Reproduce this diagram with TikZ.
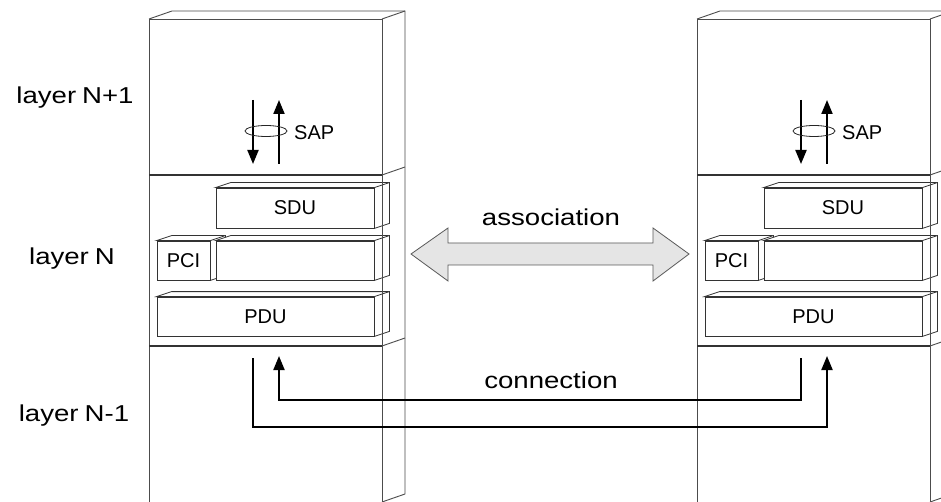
\documentclass[tikz,border=0pt]{standalone}
\usepackage{fontspec}
\setmainfont{Liberation Sans}
\newfontfamily\lblfont[FakeStretch=1.2]{Liberation Sans}
\usetikzlibrary{arrows.meta}
\begin{document}
\begin{tikzpicture}[x=1pt,y=-1pt,
  colline/.style={line width=0.9pt, draw=black!70},
  layerline/.style={line width=1.6pt, draw=black!80},
  slab/.style={draw=black!80, line width=0.8pt, fill=white, inner sep=0pt,
    font=\fontsize{20}{24}\selectfont},
  slabface/.style={draw=black!80, line width=0.8pt, fill=white},
  flow/.style={line width=2pt, draw=black, -{Triangle[length=14pt,width=11pt]}},
  bigtext/.style={font=\lblfont\fontsize{23}{26}\selectfont, inner sep=0pt, anchor=base},
  captext/.style={font=\fontsize{20}{24}\selectfont, inner sep=0pt},
  assoc/.style={draw=black!65, line width=0.8pt, fill=black!10, line join=miter},
]
\clip (0,0) rectangle (941,502);
\fill[white] (0,0) rectangle (941,502);

% two identical protocol stacks, the right one shifted by 548
\foreach \s/\dx in {L/0,R/548}{
\begin{scope}[xshift=\dx pt]
  % column block: top and side faces
  \draw[colline] (149,19) -- (172,11) -- (405,11) -- (405,494) -- (382,502);
  \draw[colline] (382,19) -- (405,11);
  \draw[colline] (382,175) -- (405,167);
  \draw[colline] (382,346) -- (405,338);
  \draw[colline] (149,502) -- (149,19) -- (382,19);
  % layer boundaries
  \draw[layerline] (149,175) -- (382,175);
  \draw[layerline] (149,346) -- (382,346);

  % data units
  \node[slab, minimum width=158pt, minimum height=40pt] (sdu\s) at (295,208) {SDU};
  \filldraw[slabface] (sdu\s.north west) -- ++(15,-5) -- ([shift={(15,-5)}]sdu\s.north east)
     -- ([shift={(15,-5)}]sdu\s.south east) -- (sdu\s.south east) -- (sdu\s.north east) -- cycle;
  \draw[slabface] (sdu\s.north east) -- ++(15,-5);

  \node[slab, minimum width=53pt, minimum height=39pt] (pci\s) at (183.5,260.5) {PCI};
  \filldraw[slabface] (pci\s.north west) -- ++(15,-5) -- ([shift={(15,-5)}]pci\s.north east)
     -- ([shift={(15,-5)}]pci\s.south east) -- (pci\s.south east) -- (pci\s.north east) -- cycle;
  \draw[slabface] (pci\s.north east) -- ++(15,-5);

  \node[slab, minimum width=158pt, minimum height=39pt] (pay\s) at (295,260.5) {};
  \filldraw[slabface] (pay\s.north west) -- ++(15,-5) -- ([shift={(15,-5)}]pay\s.north east)
     -- ([shift={(15,-5)}]pay\s.south east) -- (pay\s.south east) -- (pay\s.north east) -- cycle;
  \draw[slabface] (pay\s.north east) -- ++(15,-5);

  \node[slab, minimum width=217pt, minimum height=39pt] (pdu\s) at (265.5,316.5) {PDU};
  \filldraw[slabface] (pdu\s.north west) -- ++(15,-5) -- ([shift={(15,-5)}]pdu\s.north east)
     -- ([shift={(15,-5)}]pdu\s.south east) -- (pdu\s.south east) -- (pdu\s.north east) -- cycle;
  \draw[slabface] (pdu\s.north east) -- ++(15,-5);

  % front right edge of the column lies over the slabs
  \draw[colline] (382,19) -- (382,502);

  % service access point
  \coordinate (dnA\s) at (253,100);
  \coordinate (dnB\s) at (253,164);
  \coordinate (upA\s) at (279,164);
  \coordinate (upB\s) at (279,100);
  \draw[flow] (dnA\s) -- (dnB\s);
  \draw[flow] (upA\s) -- (upB\s);
  \draw[line width=0.8pt, black!85] (266,131) ellipse [x radius=21, y radius=5.5];
  \node[captext, anchor=west] (sap\s) at (294,132.5) {SAP};
\end{scope}
}

% layer names
\node[bigtext] (lN1) at (75,104) {layer\hspace{6pt}N+1};
\node[bigtext] (lN) at (72,265) {layer\hspace{6pt}N};
\node[bigtext] (lNm) at (74,421) {layer\hspace{6pt}N-1};

% association between peer entities
\filldraw[assoc] (411,254) -- (448,228) -- (448,243) -- (653,243) -- (653,228) -- (689,254)
  -- (653,281) -- (653,265) -- (448,265) -- (448,281) -- cycle;
\node[bigtext] (assocT) at (551,226) {association};

% connection through layer N-1
\coordinate (oStart) at (253,358);
\coordinate (oCorner) at (827,427);
\coordinate (oEnd) at (827,356);
\coordinate (iStart) at (801,358);
\coordinate (iCorner) at (279,400);
\coordinate (iEnd) at (279,356);
\draw[flow] (oStart) |- (oCorner) -- (oEnd);
\draw[flow] (iStart) |- (iCorner) -- (iEnd);
\node[bigtext] (connT) at (551,388) {connection};
\end{tikzpicture}
\end{document}
